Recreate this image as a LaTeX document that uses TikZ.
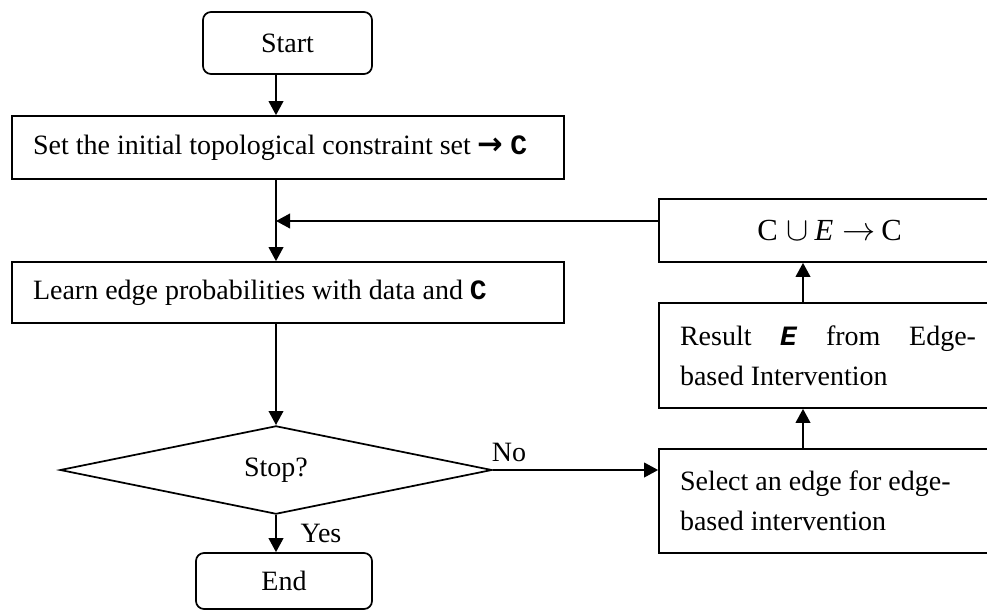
\documentclass[tikz,border=0pt]{standalone}
\usepackage{fontspec}
\setmainfont{Liberation Serif}
\setmonofont{Liberation Mono}
\newfontfamily\arrowfont{DejaVu Sans}
\usetikzlibrary{arrows.meta,shapes.geometric}

% left-aligned box text with ordinary word spacing
\newcommand\flowtext[2]{\parbox{#1}{\raggedright #2}}

\tikzset{
  every node/.style={font=\fontsize{21}{30}\selectfont},
  box/.style={draw, line width=1.3pt, rectangle, inner sep=0pt},
  leftbox/.style={box, inner xsep=15.75pt},
  terminal/.style={box, rounded corners=6pt},
  decision/.style={draw, line width=1.3pt, diamond, inner sep=0pt,
    minimum width=324pt, minimum height=61.5pt},
  arr/.style={line width=1.3pt, -{Triangle[length=10.5pt,width=11pt]}},
  tag/.style={inner sep=0pt}
}

\begin{document}
\begin{tikzpicture}[x=0.75pt, y=-0.75pt]
  \clip (0,0) rectangle (987,611);
  \useasboundingbox (0,0) rectangle (987,611);

  % main column
  \node[terminal, minimum width=126.75pt, minimum height=46.5pt] (start) at (287.5,43) {Start};
  \node[leftbox, minimum height=47.25pt] (set) at (288,147.5)
    {\flowtext{382.5pt}{Set the initial topological constraint set {\arrowfont\bfseries\fontsize{23}{30}\selectfont →} \texttt{\textbf{C}}}};
  \node[leftbox, minimum height=45.75pt] (learn) at (288,292.5)
    {\flowtext{382.5pt}{Learn edge probabilities with data and \texttt{\textbf{C}}}};
  \node[decision] (stop) at (276,470) {\raisebox{-2pt}{Stop?}};
  \node[terminal, minimum width=132pt, minimum height=42pt] (end) at (284,581) {End};

  % intervention column
  \node[box, minimum width=255.75pt, minimum height=47.25pt,
        font=\fontsize{23}{30}\selectfont] (update) at (829.5,230.5)
    {C$\;\cup\,$\textit{E}$\;\rightarrow\,$C};
  \node[leftbox, minimum height=78.75pt] (result) at (829.5,355.5)
    {\flowtext{224.25pt}{\makebox[222pt][l]{Result\hfill\texttt{\textbf{\textit{E}}}\hfill from\hfill Edge-}\\based Intervention}};
  \node[leftbox, minimum height=78pt] (select) at (829.5,501)
    {\flowtext{224.25pt}{Select an edge for edge-\\based intervention}};

  % helper points for the vertical spines
  \coordinate (join) at (276,221);
  \coordinate (spine) at (803,0);

  % connectors
  \draw[arr] (start.south -| stop) -- (set.north -| stop);
  \draw[arr] (set.south -| stop) -- (learn.north -| stop);
  \draw[arr] (update.west |- join) -- (join);
  \draw[arr] (learn.south -| stop) -- (stop.north);
  \draw[arr] (stop.south) -- (end.north -| stop);
  \draw[arr] (stop.east) -- (select.west |- stop.east);
  \draw[arr] (select.north -| spine) -- (result.south -| spine);
  \draw[arr] (result.north -| spine) -- (update.south -| spine);

  % branch labels
  \node[tag] (no) at (509,452) {No};
  \node[tag] (yes) at (321,533) {Yes};
\end{tikzpicture}
\end{document}
